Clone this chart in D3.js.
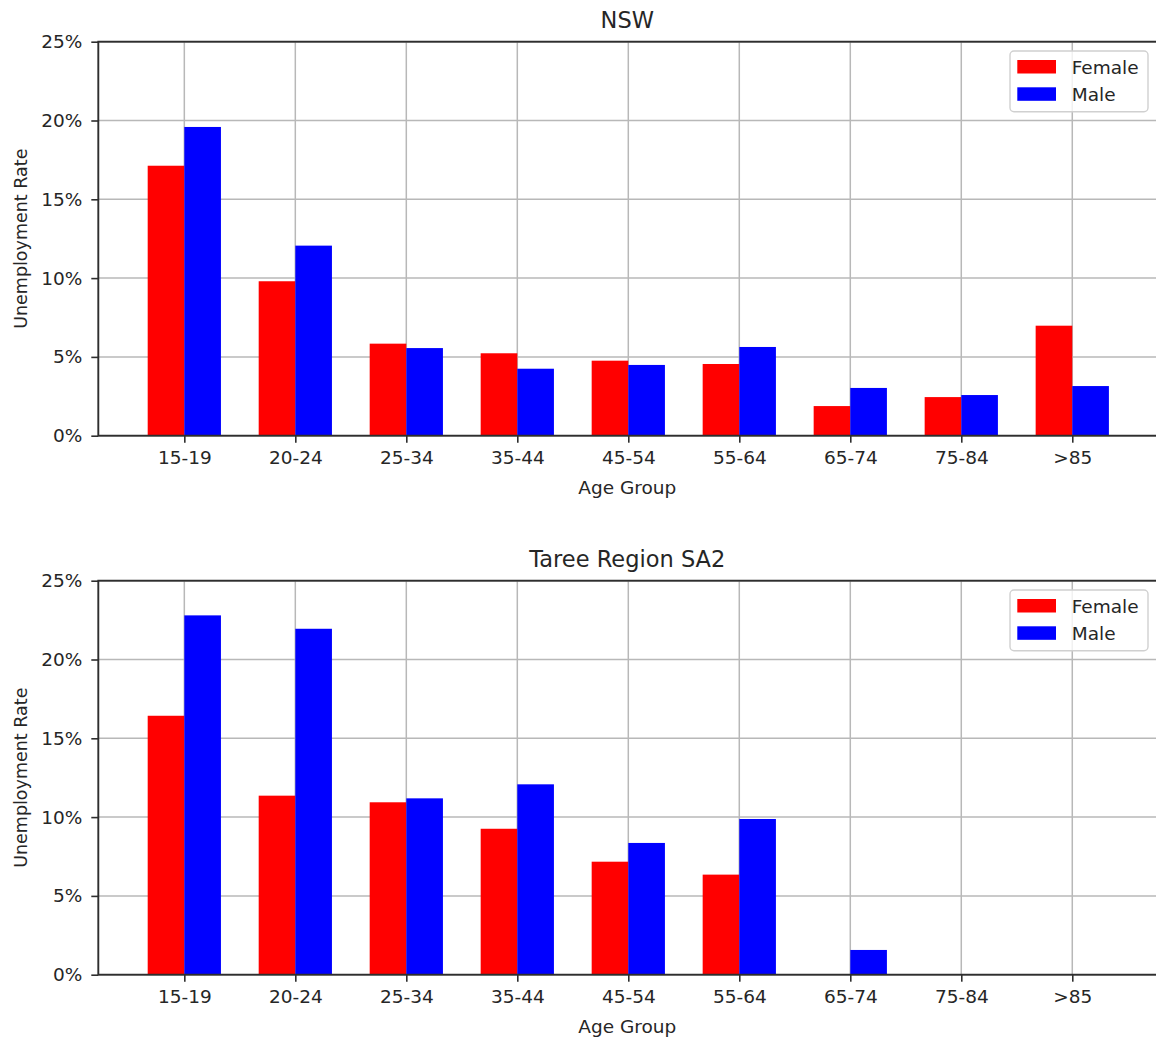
<!DOCTYPE html>
<html>
<head>
<meta charset="utf-8">
<script src="https://cdn.jsdelivr.net/npm/d3@7"></script>
<style>
  html, body { margin: 0; padding: 0; background: #fff; overflow: hidden; }
  svg { display: block; font-family: "DejaVu Sans", sans-serif; }
</style>
</head>
<body>
<svg id="chart" width="1160" height="1039"></svg>
<script>
// Age groups shown on the x axis
const categories = ["15-19", "20-24", "25-34", "35-44", "45-54", "55-64", "65-74", "75-84", ">85"];

// Unemployment rate (%) by sex, NSW
const nswFemale = [17.13, 9.80, 5.84, 5.23, 4.76, 4.55, 1.88, 2.45, 6.98];
const nswMale   = [19.59, 12.06, 5.56, 4.25, 4.49, 5.63, 3.03, 2.58, 3.15];

// Unemployment rate (%) by sex, Taree Region SA2
const tareeFemale = [16.43, 11.36, 10.94, 9.26, 7.17, 6.35, 0, 0, 0];
const tareeMale   = [22.80, 21.95, 11.19, 12.08, 8.36, 9.88, 1.57, 0, 0];

// y axis ticks (percent)
const yTicks = [0, 5, 10, 15, 20, 25];

const seriesNames = ["Female", "Male"];
const seriesColors = ["#ff0000", "#0000ff"];

const panels = [
  { title: "NSW", female: nswFemale, male: nswMale, top: 41.7, bottom: 435.7 },
  { title: "Taree Region SA2", female: tareeFemale, male: tareeMale, top: 580.7, bottom: 974.7 }
];

const svg = d3.select("#chart");
const left = 98.3, right = 1158.3;
const barWidth = 0.33;
const textColor = "#262626";
const spineColor = "#2e2e2e";
const gridColor = "#b8b8b8";
const fontSize = "18.5px";

panels.forEach(p => {
  const x = d3.scaleLinear().domain([-0.775, 8.775]).range([left, right]);
  const y = d3.scaleLinear().domain([0, 25]).range([p.bottom, p.top]);
  const g = svg.append("g");

  // grid
  g.append("g").selectAll("line.vg").data(categories).join("line")
    .attr("x1", (d, i) => x(i)).attr("x2", (d, i) => x(i))
    .attr("y1", p.top).attr("y2", p.bottom)
    .attr("stroke", gridColor).attr("stroke-width", 1.5);
  g.append("g").selectAll("line.hg").data(yTicks).join("line")
    .attr("x1", left).attr("x2", right)
    .attr("y1", d => y(d)).attr("y2", d => y(d))
    .attr("stroke", gridColor).attr("stroke-width", 1.5);

  // bars
  const groups = [p.female, p.male];
  groups.forEach((vals, s) => {
    g.append("g").selectAll("rect").data(vals).join("rect")
      .attr("x", (d, i) => x(i + (s === 0 ? -barWidth : 0)))
      .attr("width", x(barWidth) - x(0))
      .attr("y", d => y(d))
      .attr("height", d => y(0) - y(d))
      .attr("fill", seriesColors[s]);
  });

  // spines
  g.append("rect")
    .attr("x", left).attr("y", p.top)
    .attr("width", right - left).attr("height", p.bottom - p.top)
    .attr("fill", "none").attr("stroke", spineColor).attr("stroke-width", 1.9);

  // y axis
  const yAxis = d3.axisLeft(y).tickValues(yTicks).tickFormat(d => d + "%")
    .tickSize(7).tickPadding(9);
  const ya = g.append("g").attr("transform", `translate(${left},0)`).call(yAxis);
  ya.select(".domain").remove();
  ya.selectAll(".tick line").attr("stroke", spineColor).attr("stroke-width", 1.6);
  ya.selectAll(".tick text").attr("fill", textColor)
    .style("font-size", fontSize).style("font-family", "DejaVu Sans");

  // x axis
  const xAxis = d3.axisBottom(x).tickValues(d3.range(categories.length))
    .tickFormat(i => categories[i]).tickSize(7).tickPadding(8);
  const xa = g.append("g").attr("transform", `translate(0,${p.bottom})`).call(xAxis);
  xa.select(".domain").remove();
  xa.selectAll(".tick line").attr("stroke", spineColor).attr("stroke-width", 1.6);
  xa.selectAll(".tick text").attr("fill", textColor)
    .style("font-size", fontSize).style("font-family", "DejaVu Sans");

  // axis labels
  g.append("text")
    .attr("x", (left + right) / 2 - 1).attr("y", p.bottom + 58)
    .attr("text-anchor", "middle").attr("fill", textColor)
    .style("font-size", fontSize).text("Age Group");
  g.append("text")
    .attr("transform", `translate(27,${(p.top + p.bottom) / 2}) rotate(-90)`)
    .attr("text-anchor", "middle").attr("fill", textColor)
    .style("font-size", "17.5px").text("Unemployment Rate");

  // title
  g.append("text")
    .attr("x", (left + right) / 2 - 1).attr("y", p.top - 14)
    .attr("text-anchor", "middle").attr("fill", textColor)
    .style("font-size", "22.5px").text(p.title);

  // legend
  const lg = g.append("g").attr("transform", `translate(1010,${p.top + 9.3})`);
  lg.append("rect").attr("width", 138).attr("height", 60.7)
    .attr("rx", 4).attr("ry", 4)
    .attr("fill", "rgba(255,255,255,0.8)").attr("stroke", "#d0d0d0").attr("stroke-width", 1.4);
  seriesNames.forEach((name, s) => {
    lg.append("rect").attr("x", 7.3).attr("y", 9 + s * 27.3)
      .attr("width", 38.7).attr("height", 13.5).attr("fill", seriesColors[s]);
    lg.append("text").attr("x", 61.7).attr("y", 22.5 + s * 27.7)
      .attr("fill", textColor).style("font-size", fontSize).text(name);
  });
});
</script>
</body>
</html>
